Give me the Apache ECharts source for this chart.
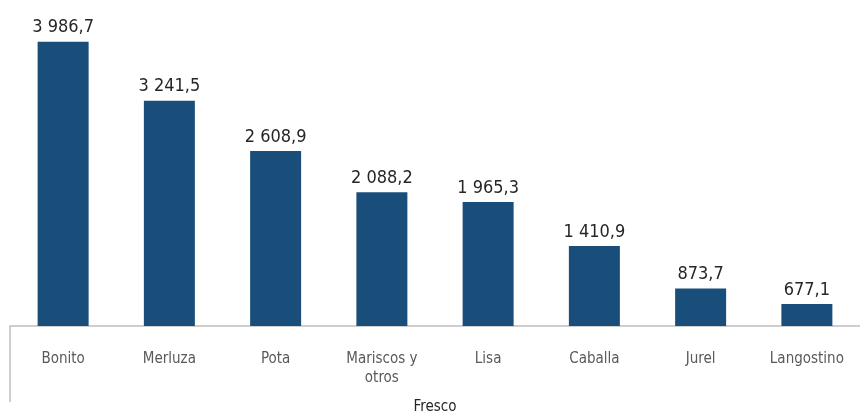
<!DOCTYPE html>
<html>
<head>
<meta charset="utf-8">
<script src="https://cdn.jsdelivr.net/npm/echarts@6/dist/echarts.min.js"></script>
<style>
  html, body { margin: 0; padding: 0; background: #fff; }
  #main { width: 860px; height: 415px; }
</style>
</head>
<body>
<div id="main"></div>
<script>
// categorias y valores (Fresco)
var especies = ['Bonito', 'Merluza', 'Pota', 'Mariscos y\notros', 'Lisa', 'Caballa', 'Jurel', 'Langostino'];
var volumen = [3986.7, 3241.5, 2608.9, 2088.2, 1965.3, 1410.9, 873.7, 677.1];
var grupo = 'Fresco';

var fuente = '"DejaVu Sans Condensed", "Roboto", sans-serif';

function fmt(v) {
  var parts = v.toFixed(1).split('.');
  return parts[0].replace(/\B(?=(\d{3})+(?!\d))/g, ' ') + ',' + parts[1];
}

var myChart = echarts.init(document.getElementById('main'));
var option = {
  animation: false,
  grid: { left: 10, right: 0, top: 9, bottom: 89, containLabel: false, outerBoundsMode: 'none' },
  xAxis: {
    type: 'category',
    data: especies,
    name: grupo,
    nameLocation: 'middle',
    nameGap: 74,
    nameTextStyle: { fontFamily: fuente, fontSize: 15, color: '#262626' },
    axisLine: { show: true, lineStyle: { color: '#bfbfbf', width: 1.5 } },
    axisTick: { show: false },
    axisLabel: {
      interval: 0,
      margin: 24,
      fontFamily: fuente,
      fontSize: 15,
      lineHeight: 19,
      color: '#595959'
    }
  },
  yAxis: {
    type: 'value',
    min: 400,
    max: 4400,
    show: false,
    splitLine: { show: false }
  },
  series: [{
    name: grupo,
    type: 'bar',
    data: volumen,
    barWidth: 51,
    itemStyle: { color: '#1a4e7a' },
    label: {
      show: true,
      position: 'top',
      distance: 5,
      fontFamily: fuente,
      fontSize: 18,
      color: '#262626',
      formatter: function (p) { return fmt(p.value); }
    }
  }],
  graphic: [{
    type: 'line',
    shape: { x1: 10, y1: 326, x2: 10, y2: 402 },
    style: { stroke: '#bfbfbf', lineWidth: 1.5 }
  }]
};
myChart.setOption(option);
</script>
</body>
</html>
